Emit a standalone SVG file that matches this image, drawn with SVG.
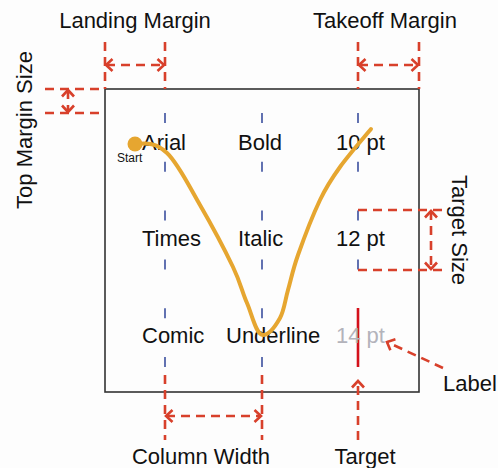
<svg xmlns="http://www.w3.org/2000/svg" width="498" height="468" viewBox="0 0 498 468">
<defs>
<style>
text{font-family:"Liberation Sans",Arial,sans-serif;fill:#111;}
.lbl{font-size:22px;}
.cell{font-size:22px;}
.dim{fill:none;stroke:#d8402b;stroke-width:2.6;stroke-dasharray:9 6;}
.col{fill:none;stroke:#3b4f9e;stroke-width:1.6;stroke-dasharray:10 38.8;}
</style>
<marker id="chev" viewBox="-8 -7 10 14" markerWidth="10" markerHeight="14" refX="0" refY="0" orient="auto-start-reverse" markerUnits="userSpaceOnUse">
<path d="M-6.5,-6 L0,0 L-6.5,6" fill="none" stroke="#d8402b" stroke-width="2.6"/>
</marker>
</defs>
<rect width="498" height="468" fill="#fdfdfd"/>

<g id="frame">
<rect x="105" y="89" width="314" height="303" fill="none" stroke="#333" stroke-width="1.6"/>
</g>

<g id="columns">
<line class="col" x1="165" y1="113" x2="165" y2="370"/>
<line class="col" x1="262" y1="113" x2="262" y2="370"/>
<line class="col" x1="358" y1="113" x2="358" y2="272"/>
</g>

<g id="target-line">
<line x1="358" y1="308" x2="358" y2="367" stroke="#d4111b" stroke-width="2.6"/>
</g>

<g id="cells">
<text class="cell" x="142" y="150">Arial</text>
<text class="cell" x="238" y="150">Bold</text>
<text class="cell" x="336" y="150">10 pt</text>
<text class="cell" x="142" y="246">Times</text>
<text class="cell" x="238" y="246">Italic</text>
<text class="cell" x="336" y="246">12 pt</text>
<text class="cell" x="142" y="343">Comic</text>
<text class="cell" x="226" y="343">Underline</text>
<text class="cell" x="336" y="343" style="fill:#b3b3bb">14 pt</text>
</g>

<g id="path-curve">
<path d="M135,144 C148,143 156,142.7 167,153 C178,163.3 189,186 200,205 C211,224 225.2,250.7 233,267 C240.8,283.3 242,291.7 247,303 C252,314.3 256,335 263,335 C270,335 275.8,325.5 280,318 C284.2,310.5 285,300.5 288,290 C291,279.5 292.7,270 298,255 C303.3,240 313,214.7 320,200 C327,185.3 331.5,178.8 340,167 C348.5,155.2 365.8,135.3 371,129" fill="none" stroke="#e6a630" stroke-width="4" stroke-linecap="round"/>
<circle cx="135" cy="144" r="7.5" fill="#e6a630"/>
<text x="117" y="162" style="font-size:12px">Start</text>
</g>

<g id="connectors">
<!-- landing margin -->
<line class="dim" x1="105" y1="42" x2="105" y2="89"/>
<line class="dim" x1="165" y1="42" x2="165" y2="89"/>
<line class="dim" x1="106" y1="65" x2="164" y2="65" marker-start="url(#chev)" marker-end="url(#chev)"/>
<!-- takeoff margin -->
<line class="dim" x1="358" y1="42" x2="358" y2="89"/>
<line class="dim" x1="419" y1="42" x2="419" y2="89"/>
<line class="dim" x1="359" y1="65" x2="418" y2="65" marker-start="url(#chev)" marker-end="url(#chev)"/>
<!-- top margin size -->
<line class="dim" x1="45" y1="89" x2="105" y2="89"/>
<line class="dim" x1="45" y1="113" x2="105" y2="113"/>
<line class="dim" x1="68" y1="90" x2="68" y2="112" marker-start="url(#chev)" marker-end="url(#chev)"/>
<!-- target size -->
<line class="dim" x1="358" y1="210" x2="444" y2="210"/>
<line class="dim" x1="358" y1="270" x2="444" y2="270"/>
<line class="dim" x1="431" y1="211" x2="431" y2="269" marker-start="url(#chev)" marker-end="url(#chev)"/>
<!-- column width -->
<line class="dim" x1="165" y1="375" x2="165" y2="440"/>
<line class="dim" x1="262" y1="375" x2="262" y2="440"/>
<line class="dim" x1="166" y1="416" x2="261" y2="416" marker-start="url(#chev)" marker-end="url(#chev)"/>
<!-- target -->
<line class="dim" x1="358" y1="440" x2="358" y2="381" marker-end="url(#chev)"/>
<!-- label -->
<line class="dim" x1="443" y1="368" x2="387" y2="342" marker-end="url(#chev)"/>
</g>

<g id="labels">
<text class="lbl" x="135" y="28" text-anchor="middle">Landing Margin</text>
<text class="lbl" x="385" y="28" text-anchor="middle">Takeoff Margin</text>
<text class="lbl" x="201" y="464" text-anchor="middle">Column Width</text>
<text class="lbl" x="365" y="464" text-anchor="middle">Target</text>
<text class="lbl" x="470" y="391" text-anchor="middle">Label</text>
<text class="lbl" transform="translate(32,130) rotate(-90)" text-anchor="middle">Top Margin Size</text>
<text class="lbl" transform="translate(452,230) rotate(90)" text-anchor="middle">Target Size</text>
</g>
</svg>
